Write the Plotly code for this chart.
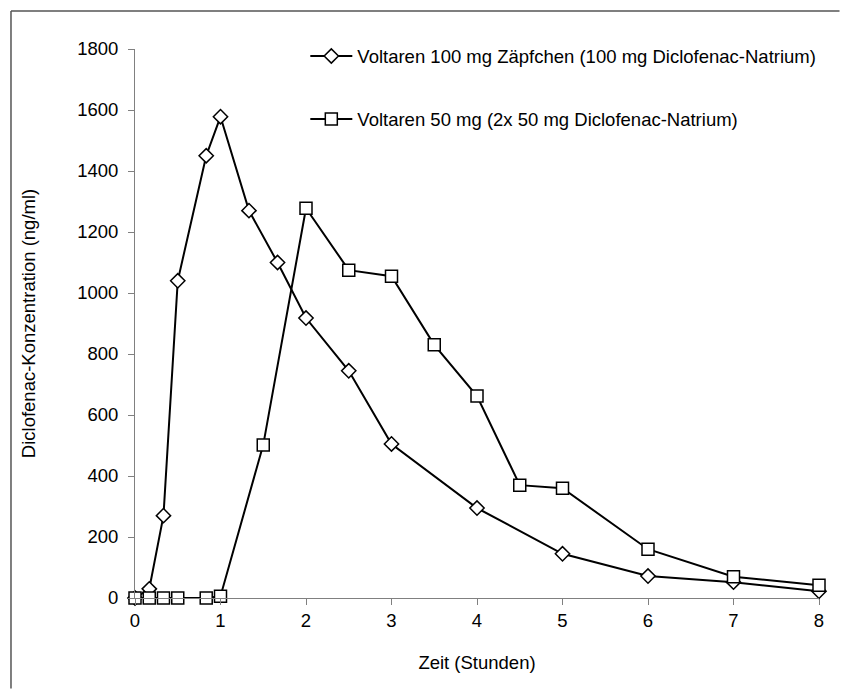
import plotly.graph_objects as go

# Time points (hours)
t_supp = [0, 0.167, 0.333, 0.5, 0.833, 1, 1.333, 1.667, 2, 2.5, 3, 4, 5, 6, 7, 8]
c_supp = [0, 30, 270, 1040, 1450, 1578, 1270, 1100, 918, 745, 505, 295, 145, 72, 52, 22]

t_tab = [0, 0.167, 0.333, 0.5, 0.833, 1, 1.5, 2, 2.5, 3, 3.5, 4, 4.5, 5, 6, 7, 8]
c_tab = [0, 0, 0, 0, 0, 6, 502, 1278, 1075, 1055, 830, 662, 370, 360, 160, 70, 42]

name_supp = "Voltaren 100 mg Zäpfchen (100 mg Diclofenac-Natrium)"
name_tab = "Voltaren 50 mg (2x 50 mg Diclofenac-Natrium)"

x_ticks = [0, 1, 2, 3, 4, 5, 6, 7, 8]
y_ticks = [0, 200, 400, 600, 800, 1000, 1200, 1400, 1600, 1800]

FONT = "Liberation Sans, Arial, sans-serif"
FS = 18.5
AX = "#808080"
BORDER = "#555555"

fig = go.Figure()
fig.add_trace(go.Scatter(
    x=t_supp, y=c_supp, name=name_supp, mode="lines+markers",
    line=dict(color="black", width=2),
    marker=dict(symbol="diamond", size=11, color="white", line=dict(color="black", width=1.5)),
    legendgroup="a", cliponaxis=False,
))
fig.add_trace(go.Scatter(
    x=t_tab, y=c_tab, name=name_tab, mode="lines+markers",
    line=dict(color="black", width=2),
    marker=dict(symbol="square", size=12, color="white", line=dict(color="black", width=1.5)),
    legendgroup="b", cliponaxis=False,
))

fig.update_layout(
    width=832, height=681,
    margin=dict(l=127, r=21, t=41, b=91),
    paper_bgcolor="white", plot_bgcolor="white",
    font=dict(family=FONT, size=FS, color="black"),
    showlegend=True,
    legend=dict(x=0.249, y=1.021, xanchor="left", yanchor="top",
                bgcolor="rgba(0,0,0,0)", font=dict(size=FS),
                itemwidth=42, tracegroupgap=36),
    xaxis=dict(range=[0, 8], tickvals=x_ticks, showgrid=False, zeroline=False,
               showline=True, linecolor=AX, linewidth=1,
               ticks="outside", ticklen=6, tickcolor=AX, tickwidth=1,
               tickfont=dict(size=FS),
               title=dict(text="Zeit (Stunden)", standoff=25, font=dict(size=FS))),
    yaxis=dict(range=[0, 1800], tickvals=y_ticks, showgrid=False, zeroline=False,
               showline=True, linecolor=AX, linewidth=1,
               ticks="outside", ticklen=6, tickcolor=AX, tickwidth=1,
               tickfont=dict(size=FS), ticklabelstandoff=6,
               title=dict(text="Diclofenac-Konzentration (ng/ml)", standoff=36, font=dict(size=FS))),
    xaxis2=dict(overlaying="x", matches="x", showgrid=False, zeroline=False,
                showline=False, ticks="inside", ticklen=6, tickcolor=AX,
                tickvals=x_ticks, showticklabels=False, anchor="y"),
    yaxis2=dict(overlaying="y", matches="y", showgrid=False, zeroline=False,
                showline=False, ticks="inside", ticklen=6, tickcolor=AX,
                tickvals=y_ticks, showticklabels=False, anchor="x"),
    shapes=[
        dict(type="line", xref="paper", yref="paper",
             x0=-0.1813, x1=1.03, y0=1.0692, y1=1.0692,
             line=dict(color=BORDER, width=1.5), layer="below"),
        dict(type="line", xref="paper", yref="paper",
             x0=-0.1813, x1=-0.1813, y0=-0.165, y1=1.0692,
             line=dict(color=BORDER, width=1.5), layer="below"),
    ],
)

fig.write_html("out.html")
